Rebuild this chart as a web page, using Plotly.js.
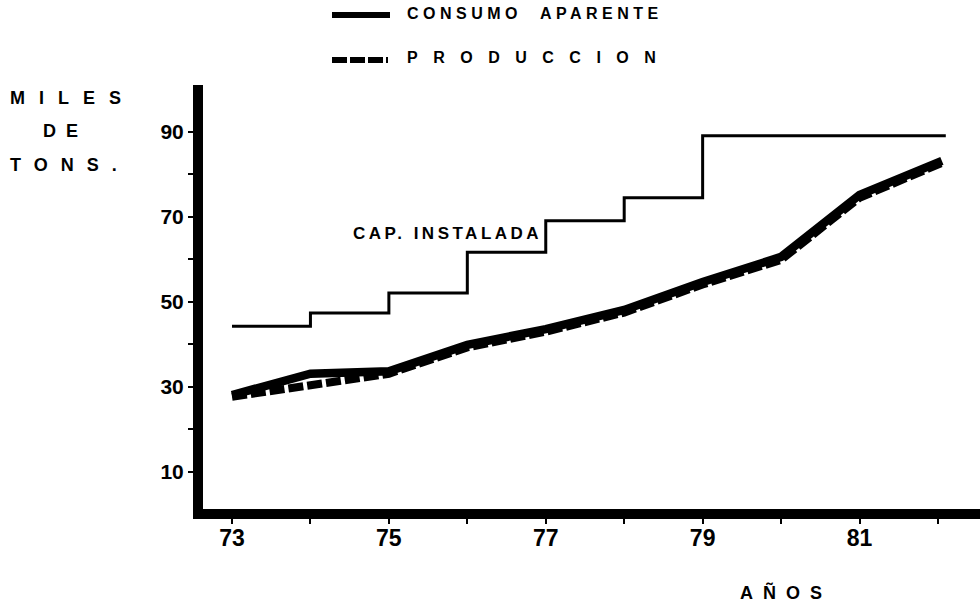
<!DOCTYPE html>
<html>
<head>
<meta charset="utf-8">
<script src="https://cdn.plot.ly/plotly-3.0.1.min.js"></script>
<style>html,body{margin:0;padding:0;background:#fff;}#chart{width:980px;height:602px;}</style>
</head>
<body>
<div id="chart"></div>
<script>
// ---- data ----
const years = [73, 74, 75, 76, 77, 78, 79, 80, 81, 82.05];
const consumoAparente = [28.0, 33.0, 33.6, 39.8, 43.5, 48.0, 54.6, 60.5, 75.1, 83.1];
const produccion = [27.6, 30.2, 33.0, 39.2, 42.9, 47.4, 54.0, 59.8, 74.4, 82.6];
const capYears = [73, 74, 75, 76, 77, 78, 79, 82.1];
const capInstalada = [44.2, 47.3, 52.0, 61.6, 69.0, 74.4, 89.0, 89.0];
const xTickVals = [73, 74, 75, 76, 77, 78, 79, 80, 81, 82];
const xTickText = ['73', '', '75', '', '77', '', '79', '', '81', ''];
const yTickVals = [10, 20, 30, 40, 50, 60, 70, 80, 90];
const yTickText = ['10', '', '30', '', '50', '', '70', '', '90'];
const seriesNames = ['CONSUMO APARENTE', 'PRODUCCION', 'CAP. INSTALADA'];

// ---- layout helpers ----
const L = 203, T = 85, PW = 777, PH = 424;
const PXPERYEAR = 78.44, PXPERUNIT = 4.25, X73 = 232, Y0 = 514;
const px = x => (x - L) / PW;
const py = y => (T + PH - y) / PH;
const FONT = 'Liberation Sans, Arial, Helvetica, sans-serif';
const nb = '\u00a0';

function label(text, x, y, size, ls) {
  return {
    text: '<span style="letter-spacing:' + ls + 'px">' + text + '</span>',
    xref: 'paper', yref: 'paper', x: px(x), y: py(y),
    xanchor: 'left', yanchor: 'middle', showarrow: false,
    font: {family: FONT, size: size, color: '#000', weight: 'bold'}
  };
}

const traces = [
  {x: capYears, y: capInstalada, name: seriesNames[2], mode: 'lines',
   line: {shape: 'hv', color: '#000', width: 3}, cliponaxis: false},
  {x: years, y: consumoAparente, name: seriesNames[0], mode: 'lines',
   line: {color: '#000', width: 8.5}, cliponaxis: false},
  {x: years, y: produccion, name: seriesNames[1], mode: 'lines',
   line: {color: '#000', width: 8, dash: '15px,4px'}, cliponaxis: false}
];

const layout = {
  width: 980, height: 602,
  margin: {l: L, r: 980 - L - PW, t: T, b: 602 - T - PH, pad: 0},
  paper_bgcolor: '#fff', plot_bgcolor: '#fff',
  showlegend: false,
  font: {family: FONT, color: '#000'},
  xaxis: {
    range: [73 - (X73 - L) / PXPERYEAR, 73 + (L + PW - X73) / PXPERYEAR],
    tickvals: xTickVals, ticktext: xTickText,
    ticks: 'outside', ticklen: 5, tickwidth: 2, tickcolor: '#000',
    showline: true, linewidth: 10, linecolor: '#000',
    showgrid: false, zeroline: false, ticklabelstandoff: -6,
    tickfont: {family: FONT, size: 23, color: '#000', weight: 'bold'}
  },
  yaxis: {
    range: [(Y0 - (T + PH)) / PXPERUNIT, (Y0 - T) / PXPERUNIT],
    tickvals: yTickVals, ticktext: yTickText,
    ticks: 'outside', ticklen: 5, tickwidth: 2, tickcolor: '#000',
    showline: true, linewidth: 10, linecolor: '#000',
    showgrid: false, zeroline: false,
    tickfont: {family: FONT, size: 21, color: '#000', weight: 'bold'}
  },
  shapes: [
    {type: 'line', xref: 'paper', yref: 'paper', x0: px(332), x1: px(390), y0: py(15), y1: py(15),
     line: {color: '#000', width: 6}},
    {type: 'line', xref: 'paper', yref: 'paper', x0: px(332), x1: px(388), y0: py(60), y1: py(60),
     line: {color: '#000', width: 6, dash: '15px,3px'}}
  ],
  annotations: [
    label('CONSUMO' + nb + nb + 'APARENTE', 405, 14, 16, 4.5),
    label('PRODUCCION', 405, 57.5, 16, 15.5),
    label('MILES', 8, 98.5, 18, 14),
    label('DE', 41, 131, 18, 10),
    label('TONS.', 8, 165, 18, 13),
    label('CAP.' + nb + 'INSTALADA', 351, 233, 17, 3.5),
    label('AÑOS', 738, 592, 18, 10)
  ]
};

Plotly.newPlot('chart', traces, layout, {displayModeBar: false, staticPlot: true});
</script>
</body>
</html>
